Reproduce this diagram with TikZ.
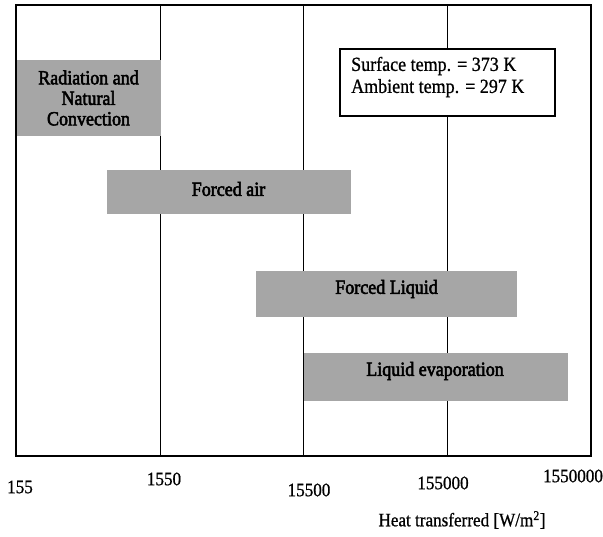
\documentclass[tikz,border=0pt]{standalone}
\usepackage{fontspec}
\setmainfont{Liberation Serif}
\newfontfamily\narrowserif[FakeStretch=0.9,FakeBold=0.8]{Liberation Serif}
\newfontfamily\narrowheavy[FakeStretch=0.9,FakeBold=2.6]{Liberation Serif}
\begin{document}
\begin{tikzpicture}[x=1pt,y=-1pt,
  frameline/.style={draw=black,line width=1.8pt},
  gridline/.style={draw=black,line width=1.7pt},
  barfill/.style={fill=barcol},
  barlabel/.style={font=\narrowheavy\fontsize{20}{20.5}\selectfont,align=center,inner sep=0pt},
  ticklabel/.style={font=\narrowserif\fontsize{19}{20}\selectfont,inner sep=0pt},
  infotext/.style={font=\narrowserif\fontsize{20}{22}\selectfont,inner sep=0pt,anchor=west,align=left},
  infobox/.style={draw=black,fill=white,line width=1.5pt}]
\definecolor{barcol}{HTML}{A6A6A6}
\useasboundingbox (0,0) rectangle (603,537);
% grid lines
\coordinate (g1t) at (160.6,5); \coordinate (g1b) at (160.6,456);
\coordinate (g2t) at (303.5,5); \coordinate (g2b) at (303.5,456);
\coordinate (g3t) at (447.5,5); \coordinate (g3b) at (447.5,456);
\draw[gridline] (g1t) -- (g1b);
\draw[gridline] (g2t) -- (g2b);
\draw[gridline] (g3t) -- (g3b);
% bars
\fill[barfill] (16,60) rectangle (160.6,136);
\fill[barfill] (106.6,170) rectangle (350.6,214);
\fill[barfill] (255.6,271) rectangle (517,317);
\fill[barfill] (303.5,353) rectangle (568,401);
\draw[frameline] (16,5) rectangle (591,456);
\node[barlabel] (rad) at (88.5,98) {Radiation and\\Natural\\Convection};
\node[barlabel] (fair) at (228.5,189) {Forced air};
\node[barlabel] (fliq) at (386.5,289) {Forced Liquid};
\node[barlabel] (levap) at (435,371) {Liquid evaporation};
% info box
\draw[infobox] (340,49) rectangle (555,116);
\node[infotext] (info) at (351,77) {Surface temp. = 373 K\\Ambient temp. = 297 K};
% tick labels
\node[ticklabel] (t1) at (20,487) {155};
\node[ticklabel] (t2) at (164,479) {1550};
\node[ticklabel] (t3) at (309,490) {15500};
\node[ticklabel] (t4) at (443,483) {155000};
\node[ticklabel] (t5) at (573,476) {1550000};
\node[ticklabel] (xl) at (462,520) {Heat transferred [W/m\textsuperscript{2}]};
\end{tikzpicture}
\end{document}
